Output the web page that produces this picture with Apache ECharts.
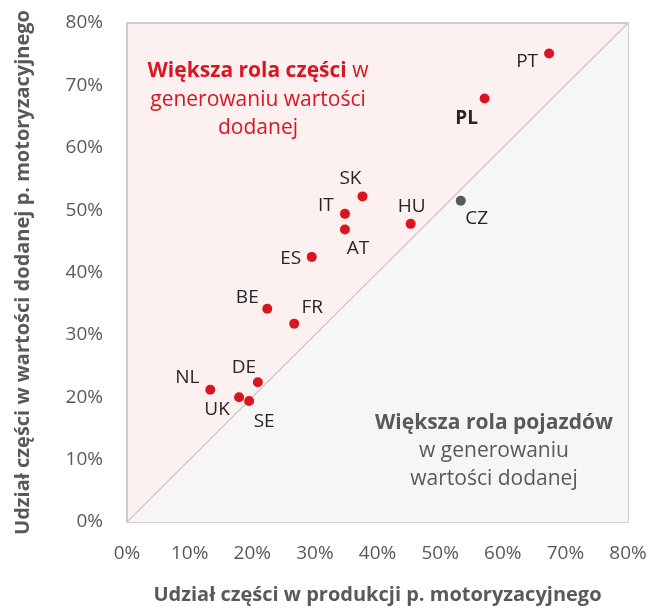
<!DOCTYPE html>
<html>
<head>
<meta charset="utf-8">
<script src="https://cdn.jsdelivr.net/npm/echarts@6/dist/echarts.min.js"></script>
<style>
  html, body { margin: 0; padding: 0; background: #fff; }
  #chart { width: 650px; height: 610px; }
</style>
</head>
<body>
<div id="chart"></div>
<script>
// countries, parts share in production (x) and in value added (y), in %
const countries = ['PT', 'PL', 'SK', 'CZ', 'IT', 'AT', 'HU', 'ES', 'BE', 'FR', 'DE', 'NL', 'UK', 'SE'];
const productionShare = [67.4, 57.1, 37.6, 53.3, 34.8, 34.8, 45.3, 29.5, 22.4, 26.7, 20.9, 13.3, 17.9, 19.5];
const valueAddedShare = [75.1, 67.9, 52.2, 51.5, 49.4, 46.9, 47.8, 42.5, 34.2, 31.8, 22.4, 21.2, 20.0, 19.4];
const axisTicks = [0, 10, 20, 30, 40, 50, 60, 70, 80];
const diagonal = [[0, 0], [80, 80]];

// label offsets from the dot (px)
const labelShift = {
  PT: [-22, 8], PL: [-18, 20], SK: [-12, -18], CZ: [16, 18], IT: [-19, -8],
  AT: [13, 19], HU: [1, -17], ES: [-21, 2], BE: [-20, -11], FR: [18, -16],
  DE: [-14, -15], NL: [-23, -12], UK: [-22, 12], SE: [15, 21]
};

const red = '#d9161f';
const grey = '#595959';
const font = '"Open Sans", sans-serif';

let points = countries.map((c, i) => ({
  name: c,
  value: [productionShare[i], valueAddedShare[i]],
  itemStyle: { color: c === 'CZ' ? grey : red, opacity: 1 },
  label: {
    offset: labelShift[c],
    fontWeight: c === 'PL' ? 'bold' : 'normal'
  }
}));

let chart = echarts.init(document.getElementById('chart'));

chart.setOption({
  animation: false,
  grid: {
    left: 127, right: 22, top: 23, bottom: 87,
    show: true,
    backgroundColor: '#fdf0f0',
    borderColor: '#bfbfbf',
    borderWidth: 1.5
  },
  xAxis: {
    type: 'value',
    min: axisTicks[0], max: axisTicks[axisTicks.length - 1], interval: 10,
    name: 'Udział części w produkcji p. motoryzacyjnego',
    nameLocation: 'middle',
    nameGap: 63,
    nameTextStyle: { fontFamily: font, fontSize: 20, fontWeight: 'bold', color: grey },
    axisLine: { show: false },
    axisTick: { show: false },
    splitLine: { show: false },
    axisLabel: { formatter: '{value}%', margin: 22, fontFamily: font, fontSize: 19, color: grey }
  },
  yAxis: {
    type: 'value',
    min: axisTicks[0], max: axisTicks[axisTicks.length - 1], interval: 10,
    name: 'Udział części w wartości dodanej p. motoryzacyjnego',
    nameLocation: 'middle',
    nameGap: 94,
    nameTextStyle: { fontFamily: font, fontSize: 20, fontWeight: 'bold', color: grey },
    axisLine: { show: false },
    axisTick: { show: false },
    splitLine: { show: false },
    axisLabel: { formatter: '{value}%', margin: 24, fontFamily: font, fontSize: 19, color: grey }
  },
  series: [
    {
      // lower triangle + diagonal line
      type: 'line',
      data: diagonal,
      symbol: 'none',
      silent: true,
      lineStyle: { color: '#c8c8c8', width: 1.2 },
      areaStyle: { color: '#f6f6f6', opacity: 1 },
      z: 1
    },
    {
      type: 'scatter',
      data: points,
      symbolSize: 10,
      z: 3,
      label: {
        show: true,
        position: 'inside',
        align: 'center',
        verticalAlign: 'middle',
        formatter: '{b}',
        fontFamily: font,
        fontSize: 19,
        color: '#262626'
      }
    }
  ],
  graphic: [
    {
      type: 'text',
      x: 258, y: 57,
      z: 10,
      style: {
        text: '{b|Większa rola części} w\ngenerowaniu wartości\ndodanej',
        align: 'center',
        verticalAlign: 'top',
        fill: red,
        font: '21px "Open Sans", sans-serif',
        lineHeight: 28.5,
        rich: {
          b: { fontWeight: 'bold', fontFamily: font, fontSize: 21, fill: red, lineHeight: 28.5 }
        }
      }
    },
    {
      type: 'text',
      x: 494, y: 409,
      z: 10,
      style: {
        text: '{b|Większa rola pojazdów}\nw generowaniu\nwartości dodanej',
        align: 'center',
        verticalAlign: 'top',
        fill: grey,
        font: '21px "Open Sans", sans-serif',
        lineHeight: 28,
        rich: {
          b: { fontWeight: 'bold', fontFamily: font, fontSize: 21, fill: grey, lineHeight: 28 }
        }
      }
    }
  ]
});
</script>
</body>
</html>
